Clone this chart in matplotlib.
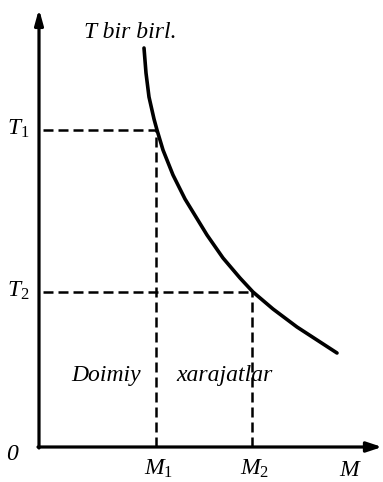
import matplotlib
matplotlib.use("Agg")
import matplotlib.pyplot as plt

# Data (M = output quantity, T = unit cost)
M_curve = [105, 107, 110, 115, 118, 124, 134, 146, 168, 184, 201, 214, 234, 258, 278, 298]
T_curve = [399, 374, 350, 328, 317, 297, 272, 248, 212, 189, 169, 155, 138, 120, 107, 94]
M_marks = [117, 213]
T_marks = [317, 155]
M_labels = ["$M_1$", "$M_2$"]
T_labels = ["$T_1$", "$T_2$"]
curve_label = "T bir birl."
region_words = ["Doimiy", "xarajatlar"]

plt.rcParams['mathtext.fontset'] = 'custom'
plt.rcParams['mathtext.rm'] = 'Liberation Serif'
plt.rcParams['mathtext.it'] = 'Liberation Serif:italic'
plt.rcParams['font.family'] = 'Liberation Serif'

fig = plt.figure(figsize=(3.83, 4.82), dpi=100)
ax = fig.add_axes([0, 0, 1, 1])
ax.set_xlim(-39, 344)
ax.set_ylim(-35, 447)
ax.axis('off')

# axes with arrows
ax.annotate('', xy=(0, 438), xytext=(0, -1),
            arrowprops=dict(arrowstyle='-|>,head_length=0.9,head_width=0.25', lw=2.3, color='black', shrinkA=0, shrinkB=0))
ax.annotate('', xy=(343, 0), xytext=(-1, 0),
            arrowprops=dict(arrowstyle='-|>,head_length=0.9,head_width=0.3', lw=2.3, color='black', shrinkA=0, shrinkB=0))

# curve
ax.plot(M_curve, T_curve, color='black', lw=2.6, solid_capstyle='round', solid_joinstyle='round')

# dashed guides
for m, t in zip(M_marks, T_marks):
    ax.plot([4, m], [t, t], color='black', lw=1.8, dashes=(4, 2))
    ax.plot([m, m], [0, t], color='black', lw=1.8, dashes=(4, 2))

# labels
fs = 17
for t, lab in zip(T_marks, T_labels):
    ax.text(-21, t + 1, lab, fontsize=fs, ha='center', va='center')
for m, lab in zip(M_marks, M_labels):
    ax.text(m + 3, -22, lab, fontsize=fs, ha='center', va='center')
ax.text(-27, -8, "0", fontsize=fs, style='italic', ha='center', va='center')
ax.text(312, -24, "$M$", fontsize=fs, ha='center', va='center')
ax.text(91, 414, curve_label, fontsize=fs, style='italic', ha='center', va='center')
ax.text(67, 72, region_words[0], fontsize=fs, style='italic', ha='center', va='center')
ax.text(185, 72, region_words[1], fontsize=fs, style='italic', ha='center', va='center')

fig.savefig("out.png", dpi=100)
